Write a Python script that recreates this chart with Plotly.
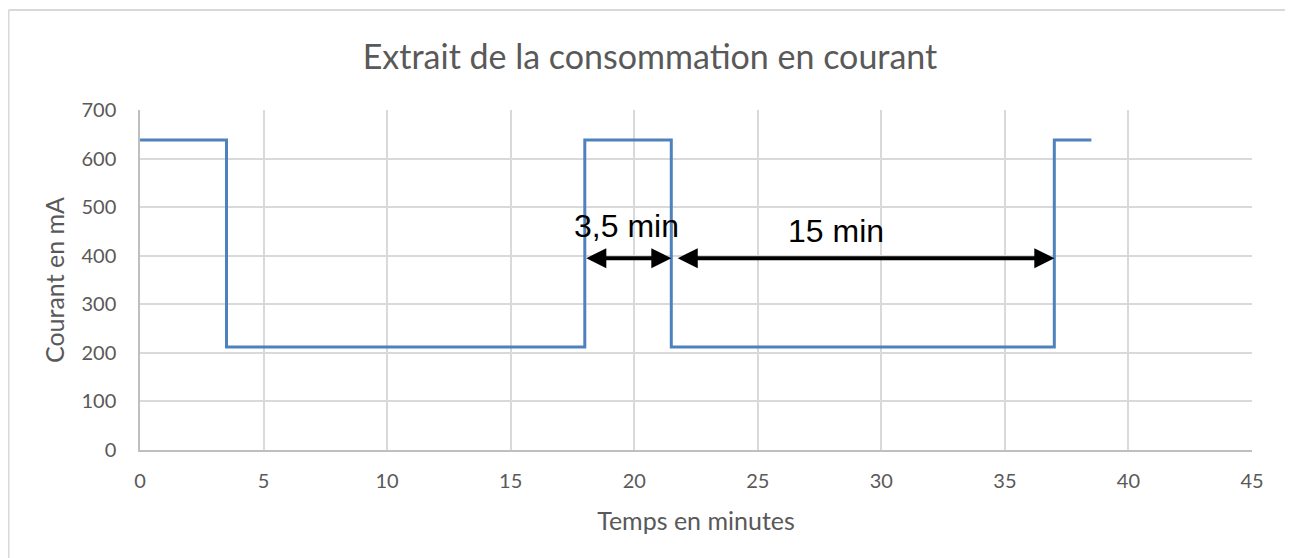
import plotly.graph_objects as go

# Data
time_min = [0, 3.5, 18, 21.5, 37, 38.5]
current_mA = [638, 212, 638, 212, 638, 638]
x_ticks = [0, 5, 10, 15, 20, 25, 30, 35, 40, 45]
y_ticks = [0, 100, 200, 300, 400, 500, 600, 700]
arrow1 = (18, 21.5, 395)
arrow2 = (21.7, 37, 395)
label1 = "3,5 min"
label2 = "15 min"

W, H = 1293, 558
OFF = 8  # page body offset
L, T = 140 - OFF, 110 - OFF
pw, ph = 1112, 340
R = W - L - pw
B = H - T - ph

fig = go.Figure()
fig.add_trace(go.Scatter(x=time_min, y=current_mA, mode="lines", line_shape="hv",
                         line=dict(color="#4F81BD", width=3), showlegend=False, hoverinfo="skip"))

FONT = "Lato, Open Sans, sans-serif"
tickfont = dict(family=FONT, size=20, color="#595959")
fig.update_layout(
    width=W, height=H,
    margin=dict(l=L, r=R, t=T, b=B),
    paper_bgcolor="white", plot_bgcolor="white",
    title=dict(text="Extrait de la consommation en courant", x=(650 - OFF) / W, xanchor="center",
               y=1 - (57 - OFF) / H, yanchor="middle", yref="container",
               font=dict(family=FONT, size=34, color="#595959")),
    xaxis=dict(range=[0, 45], tickvals=x_ticks, showgrid=True, gridcolor="#d9d9d9", gridwidth=1.5,
               zeroline=False, showline=True, linecolor="#bfbfbf", linewidth=1.5,
               ticks="", tickfont=tickfont, ticklabelstandoff=12,
               title=dict(text="Temps en minutes", font=dict(family=FONT, size=25, color="#595959"), standoff=22)),
    yaxis=dict(range=[0, 700], tickvals=y_ticks, showgrid=True, gridcolor="#d9d9d9", gridwidth=1.5,
               zeroline=False, showline=True, linecolor="#bfbfbf", linewidth=1.5,
               ticks="", tickfont=tickfont, ticklabelstandoff=18,
               title=dict(text="Courant en mA", font=dict(family=FONT, size=25, color="#595959"), standoff=10)),
)

# outer chart border (left and top)
bx = (0.5 - L) / pw
by = (T + ph - 2) / ph
fig.add_shape(type="line", xref="paper", yref="paper", x0=bx, x1=bx, y0=by, y1=-0.5,
              line=dict(color="#d9d9d9", width=2))
fig.add_shape(type="line", xref="paper", yref="paper", x0=bx, x1=1.2, y0=by, y1=by,
              line=dict(color="#d9d9d9", width=2))

for (xa, xb, yv) in [arrow1, arrow2]:
    fig.add_annotation(x=xb, y=yv, ax=xa, ay=yv, xref="x", yref="y", axref="x", ayref="y",
                       text="", showarrow=True, arrowhead=2, startarrowhead=2, arrowside="end+start",
                       arrowwidth=4, arrowsize=1, startarrowsize=1, arrowcolor="black")

fig.add_annotation(x=19.7, y=462, xref="x", yref="y", text=label1, showarrow=False,
                   font=dict(family="Liberation Sans, Arial, sans-serif", size=32, color="black"))
fig.add_annotation(x=28.15, y=450, xref="x", yref="y", text=label2, showarrow=False,
                   font=dict(family="Liberation Sans, Arial, sans-serif", size=32, color="black"))

fig.write_html("out.html")
